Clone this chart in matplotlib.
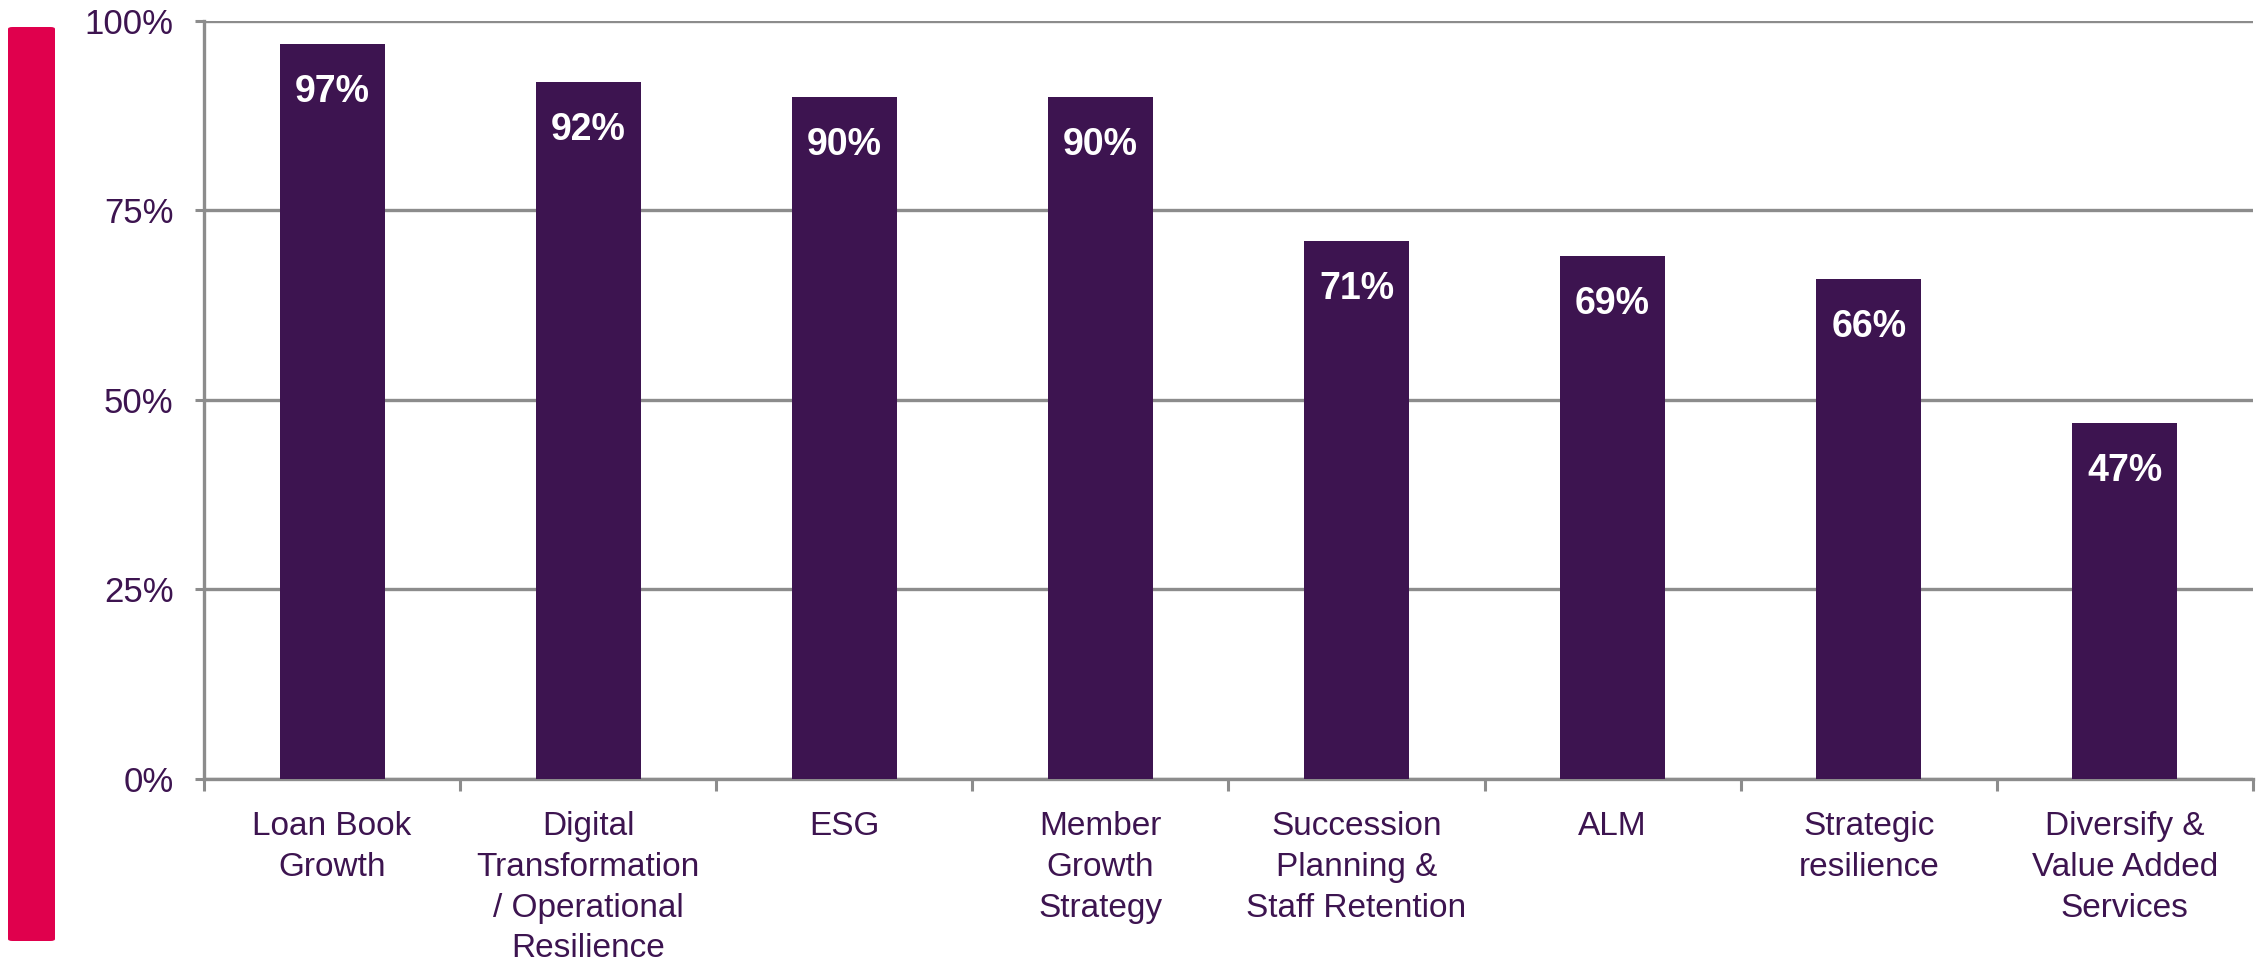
import matplotlib
matplotlib.use("Agg")
import matplotlib.pyplot as plt
from matplotlib.patches import FancyBboxPatch
from matplotlib.ticker import FixedLocator

categories = [
    "Loan Book\nGrowth",
    "Digital\nTransformation\n/ Operational\nResilience",
    "ESG",
    "Member\nGrowth\nStrategy",
    "Succession\nPlanning &\nStaff Retention",
    "ALM",
    "Strategic\nresilience",
    "Diversify &\nValue Added\nServices",
]
values = [97, 92, 90, 90, 71, 69, 66, 47]
yticks = [0, 25, 50, 75, 100]

purple = "#3d1450"
grey = "#8c8c8c"

plt.rcParams["font.family"] = ["Liberation Sans", "DejaVu Sans"]

fig = plt.figure(figsize=(22.64, 9.65), dpi=100)
ax = fig.add_axes([0.0901, 0.19275, 0.905, 0.78549])

# accent strip on the left edge
fig.patches.append(FancyBboxPatch(
    (8 / 2264, 1 - 941 / 965), 47 / 2264, 914 / 965,
    boxstyle="round,pad=0,rounding_size=0.002",
    transform=fig.transFigure, facecolor="#e0004d", edgecolor="none"))

x = list(range(len(categories)))
ax.bar(x, values, width=0.41, color=purple, zorder=3)

for xi, v in zip(x, values):
    ax.annotate(f"{v}%", (xi, v), xytext=(0, -42), textcoords="offset points",
                ha="center", va="baseline", color="white", fontsize=27,
                fontweight="bold", zorder=4)

ax.set_xlim(-0.5, len(categories) - 0.5)
ax.set_ylim(0, 100)
ax.set_yticks(yticks)
ax.set_yticklabels([f"{t}%" for t in yticks])
ax.yaxis.grid(True, color=grey, linewidth=2.4, zorder=0)
ax.set_axisbelow(True)

ax.xaxis.set_major_locator(FixedLocator([i - 0.5 for i in range(len(categories) + 1)]))
ax.xaxis.set_major_formatter(plt.NullFormatter())
ax.set_xticks(x, minor=True)
ax.set_xticklabels(categories, minor=True)

ax.tick_params(axis="y", direction="out", length=6.5, width=2.2, color=grey,
               labelsize=25, labelcolor=purple, pad=15.5)
ax.tick_params(axis="x", which="major", direction="out", length=8.6, width=2.2,
               color=grey)
ax.tick_params(axis="x", which="minor", length=0, labelsize=24,
               labelcolor=purple, pad=23)
for lab in ax.get_xticklabels(minor=True):
    lab.set_linespacing(1.41)

for side in ("top", "right"):
    ax.spines[side].set_visible(False)
for side in ("left", "bottom"):
    ax.spines[side].set_color(grey)
    ax.spines[side].set_linewidth(2.4)

fig.savefig("out.png", dpi=100)
